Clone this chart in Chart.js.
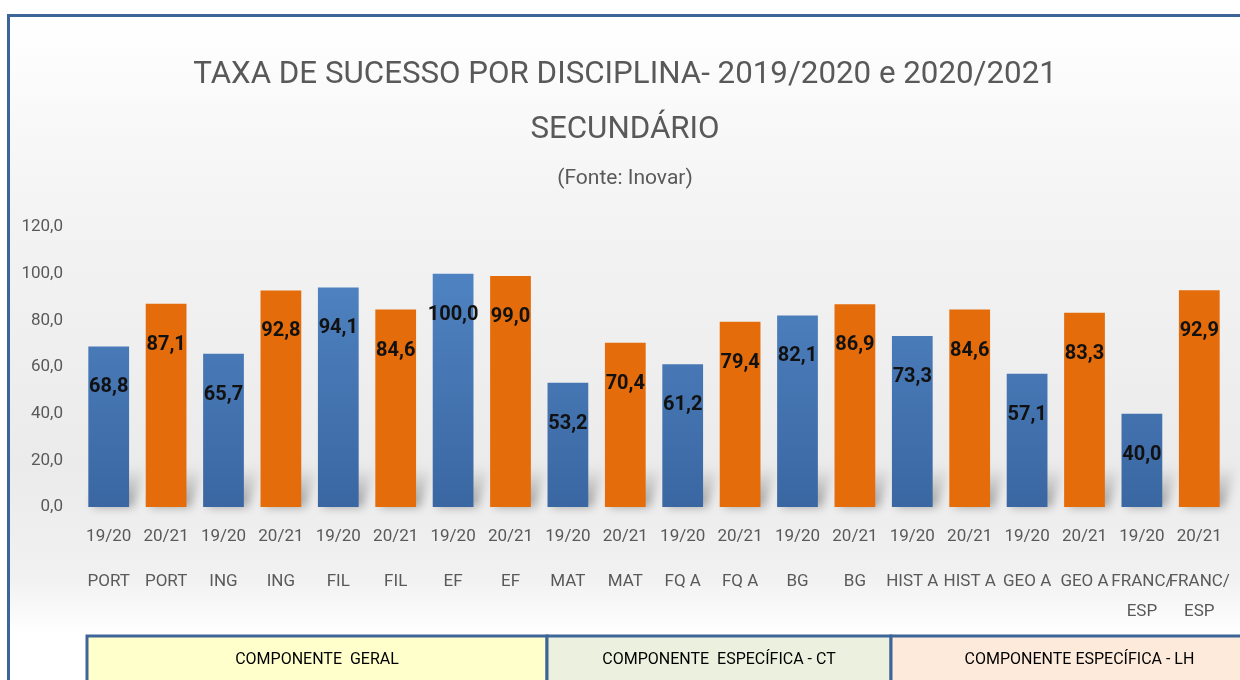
<!DOCTYPE html>
<html>
<head>
<meta charset="utf-8">
<script src="https://cdn.jsdelivr.net/npm/chart.js@4.4.0/dist/chart.umd.min.js"></script>
<style>
  html, body { margin: 0; padding: 0; background: #fff; }
  #wrap { position: relative; width: 1240px; height: 680px; overflow: hidden; background: #fff; }
  #frame {
    position: absolute; left: 7px; top: 14px; width: 1300px; height: 700px;
    border: 3px solid #3d6597;
    background: linear-gradient(to bottom, #ffffff 0%, #f4f4f4 26%, #ebebeb 64%, #f1f1f1 80%, #ffffff 88%);
  }
  canvas { position: absolute; left: 0; top: 0; }
</style>
</head>
<body>
<div id="wrap">
  <div id="frame"></div>
  <canvas id="chart" width="1240" height="680"></canvas>
</div>
<script>
const years = ['19/20', '20/21', '19/20', '20/21', '19/20', '20/21', '19/20', '20/21', '19/20', '20/21',
               '19/20', '20/21', '19/20', '20/21', '19/20', '20/21', '19/20', '20/21', '19/20', '20/21'];
const disciplines = ['PORT', 'PORT', 'ING', 'ING', 'FIL', 'FIL', 'EF', 'EF', 'MAT', 'MAT',
                     'FQ A', 'FQ A', 'BG', 'BG', 'HIST A', 'HIST A', 'GEO A', 'GEO A',
                     ['FRANC/', 'ESP'], ['FRANC/', 'ESP']];
const values = [68.8, 87.1, 65.7, 92.8, 94.1, 84.6, 100.0, 99.0, 53.2, 70.4,
                61.2, 79.4, 82.1, 86.9, 73.3, 84.6, 57.1, 83.3, 40.0, 92.9];
const titleLines = ['TAXA DE SUCESSO POR DISCIPLINA- 2019/2020 e 2020/2021', 'SECUNDÁRIO'];
const componentNames = ['COMPONENTE  GERAL', 'COMPONENTE  ESPECÍFICA - CT', 'COMPONENTE ESPECÍFICA - LH'];
const componentFirstBar = [0, 8, 14];

const FONT = "Roboto, 'DejaVu Sans', sans-serif";
const GREY = '#595959';
const ORANGE = '#e46c0a';
const componentFills = ['#ffffcc', '#ebf1de', '#fdeada'];
const BORDER = '#3d6597';

function fmt(v) {
    return Number(v).toFixed(1).replace('.', ',');
}

// tamanho de letra para o titulo ocupar a largura certa
function fitFontSize(text, width) {
    const c = document.createElement('canvas').getContext('2d');
    c.font = '100px ' + FONT;
    return 100 * width / c.measureText(text).width;
}
const titleSize = fitFontSize(titleLines[0], 864);

// eixo x sem folga lateral por causa das etiquetas
function fixXAxis(height) {
    return (s) => {
        s.height = height;
        s.paddingLeft = 0;
        s.paddingRight = 0;
    };
}

// sombra suave junto a base das barras
const barShadows = {
    id: 'barShadows',
    beforeDatasetsDraw(chart) {
        const ctx = chart.ctx;
        const bars = chart.getDatasetMeta(0).data;
        ctx.save();
        ctx.filter = 'blur(5px)';
        bars.forEach((bar) => {
            const xl = bar.x - bar.width / 2;
            const xr = bar.x + bar.width / 2;
            const base = bar.base;
            const g = ctx.createLinearGradient(0, base - 40, 0, base);
            g.addColorStop(0, 'rgba(0,0,0,0)');
            g.addColorStop(1, 'rgba(0,0,0,0.35)');
            ctx.fillStyle = g;
            ctx.beginPath();
            ctx.moveTo(xl + 4, base);
            ctx.lineTo(xr + 4, base);
            ctx.lineTo(xr + 16, base - 40);
            ctx.lineTo(xl + 16, base - 40);
            ctx.closePath();
            ctx.fill();
        });
        ctx.restore();
    }
};

// valores dentro das barras
const valueLabels = {
    id: 'valueLabels',
    afterDatasetsDraw(chart) {
        const ctx = chart.ctx;
        const bars = chart.getDatasetMeta(0).data;
        ctx.save();
        ctx.font = 'bold 20px ' + FONT;
        ctx.fillStyle = '#111';
        ctx.textAlign = 'center';
        ctx.textBaseline = 'middle';
        bars.forEach((bar, i) => {
            ctx.fillText(fmt(values[i]), bar.x, bar.y + 41);
        });
        ctx.restore();
    }
};

// caixas das componentes por baixo do eixo
const componentBoxes = {
    id: 'componentBoxes',
    afterDraw(chart) {
        const ctx = chart.ctx;
        const bars = chart.getDatasetMeta(0).data;
        const top = chart.height - 44;
        const h = 80;
        ctx.save();
        componentFirstBar.forEach((first, k) => {
            const b = bars[first];
            const x0 = Math.round(b.x - b.width / 2) - 1;
            let x1 = chart.width + 10;
            let cx = (x0 + chart.width + 28) / 2;
            if (k + 1 < componentFirstBar.length) {
                const n = bars[componentFirstBar[k + 1]];
                x1 = Math.round(n.x - n.width / 2) - 1;
                cx = (x0 + x1) / 2;
            }
            ctx.fillStyle = componentFills[k];
            ctx.fillRect(x0, top, x1 - x0, h);
            ctx.lineWidth = 3;
            ctx.strokeStyle = BORDER;
            ctx.strokeRect(x0, top, x1 - x0, h);
            ctx.fillStyle = '#000';
            ctx.font = '16px ' + FONT;
            ctx.textAlign = 'center';
            ctx.textBaseline = 'middle';
            ctx.fillText(componentNames[k], cx, top + 24);
        });
        ctx.restore();
    }
};

const ctx = document.getElementById('chart').getContext('2d');

const chart = new Chart(ctx, {
    type: 'bar',
    data: {
        labels: years,
        datasets: [{
            data: values,
            backgroundColor: (c) => {
                if (years[c.dataIndex] === '20/21') return ORANGE;
                const area = c.chart.chartArea;
                if (!area) return '#4677b6';
                const g = c.chart.ctx.createLinearGradient(0, area.top, 0, area.bottom);
                g.addColorStop(0, '#5388c7');
                g.addColorStop(1, '#3a67a2');
                return g;
            },
            borderWidth: 0,
            categoryPercentage: 1,
            barPercentage: 0.71
        }]
    },
    options: {
        responsive: false,
        animation: false,
        layout: {
            padding: { left: 22, right: 12, top: 0, bottom: 53 }
        },
        plugins: {
            legend: { display: false },
            tooltip: { enabled: false },
            title: {
                display: true,
                text: titleLines,
                color: GREY,
                font: { family: FONT, size: titleSize, weight: 'normal', lineHeight: '55px' },
                padding: { top: 48, bottom: 8 }
            },
            subtitle: {
                display: true,
                text: '(Fonte: Inovar)',
                color: GREY,
                font: { family: FONT, size: 21, lineHeight: '26px' },
                padding: { top: 0, bottom: 35 }
            }
        },
        scales: {
            x: {
                grid: { display: false, drawTicks: false },
                border: { display: false },
                afterFit: fixXAxis(42),
                ticks: {
                    color: GREY,
                    font: { family: FONT, size: 17, lineHeight: '24px' },
                    padding: 18,
                    maxRotation: 0,
                    autoSkip: false
                }
            },
            x2: {
                type: 'category',
                labels: disciplines,
                position: 'bottom',
                offset: true,
                weight: 1,
                grid: { display: false, drawTicks: false },
                border: { display: false },
                afterFit: fixXAxis(78),
                ticks: {
                    color: GREY,
                    font: { family: FONT, size: 17, lineHeight: '30px' },
                    padding: 18,
                    maxRotation: 0,
                    autoSkip: false
                }
            },
            y: {
                min: 0,
                max: 120,
                grid: { display: false, drawTicks: false },
                border: { display: false },
                afterFit: (s) => { s.width = 58; },
                ticks: {
                    stepSize: 20,
                    color: GREY,
                    font: { family: FONT, size: 17 },
                    padding: 17,
                    callback: (v) => fmt(v)
                }
            }
        }
    },
    plugins: [barShadows, valueLabels, componentBoxes]
});
</script>
</body>
</html>
